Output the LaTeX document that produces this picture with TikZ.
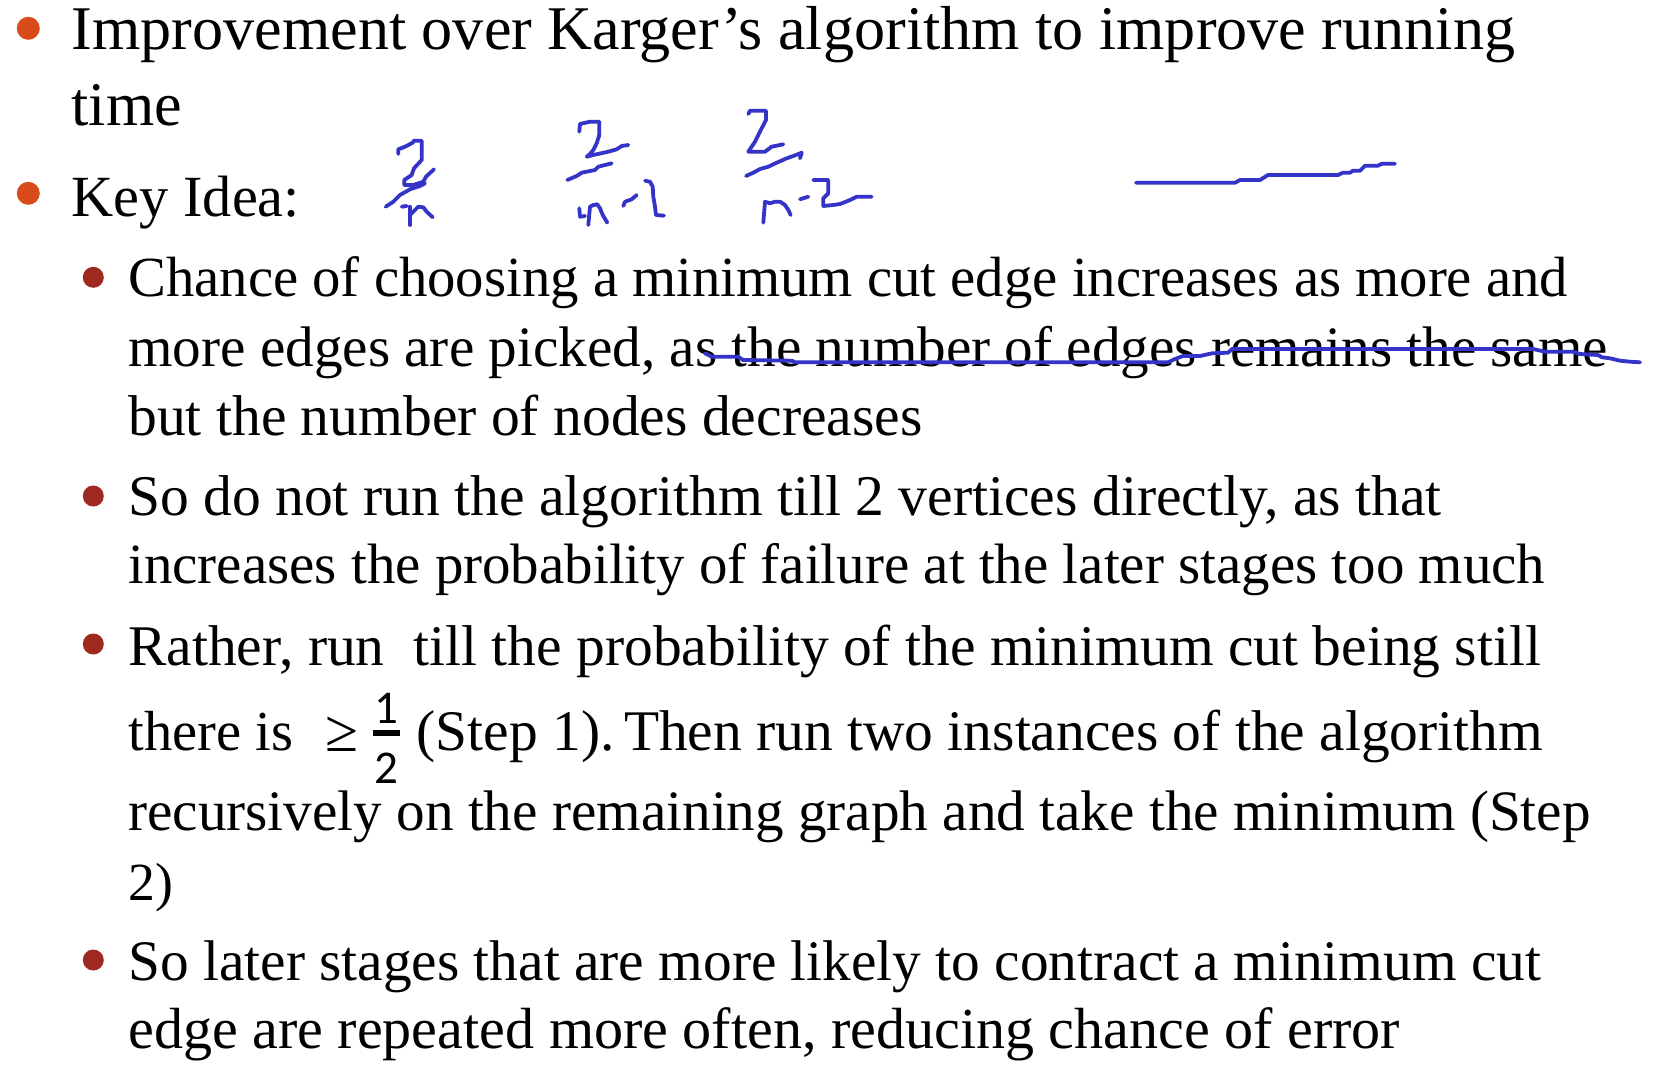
\documentclass[tikz,border=0pt]{standalone}
\usepackage{fontspec}
\setmainfont{Liberation Serif}
\newfontfamily\fracfont{Carlito}
\definecolor{bulletorange}{HTML}{D84B1A}
\definecolor{bulletred}{HTML}{9E2A1F}
\definecolor{ink}{HTML}{3434C8}
\newcommand\tline[4]{\node[txt] (#1) at #2 {\resizebox{#3pt}{!}{#4}};}
\begin{document}
\frenchspacing
\begin{tikzpicture}[x=1pt,y=-1pt,
  txt/.style={anchor=base west,inner sep=0pt,outer sep=0pt,font=\fontsize{60}{72}\selectfont},
  fracdigit/.style={anchor=base,inner sep=0pt,outer sep=0pt,font=\fracfont\fontsize{47}{47}\selectfont},
  topbullet/.style={circle,fill=bulletorange,minimum size=23pt,inner sep=0pt},
  subbullet/.style={circle,fill=bulletred,minimum size=21pt,inner sep=0pt},
  inkline/.style={draw=ink,line width=3.8pt,line cap=round,line join=round}]
\useasboundingbox[fill=white] (0,0) rectangle (1657,1065);
% bullets
\node[topbullet] (b1) at (28.3,28.3) {};
\node[topbullet] (b2) at (28.3,193.3) {};
\node[subbullet] (s1) at (93.3,277.3) {};
\node[subbullet] (s2) at (93.3,496) {};
\node[subbullet] (s3) at (93.3,644) {};
\node[subbullet] (s4) at (93.3,960) {};
% text lines
\tline{l1}{(71.7,50)}{1443.3}{Improvement over Karger’s algorithm to improve running}
\tline{l2}{(71.7,125)}{110.3}{time}
\tline{l3}{(71.7,216.7)}{228.3}{Key Idea:}
\tline{l4}{(128.3,296.7)}{1439.7}{Chance of choosing a minimum cut edge increases as more and}
\tline{l5}{(128.3,366)}{1479.7}{more edges are picked, as the number of edges remains the same}
\tline{l6}{(128.3,435)}{794.3}{but the number of nodes decreases}
\tline{l7}{(128.3,515)}{1313.2}{So do not run the algorithm till 2 vertices directly, as that}
\tline{l8}{(128.3,583.3)}{1416.7}{increases the probability of failure at the later stages too much}
\tline{l9}{(128.3,665)}{1412.7}{Rather, run\ \ till the probability of the minimum cut being still}
\tline{l10a}{(128.3,750.7)}{164.7}{there is}
\node[txt] (geq) at (325,751.7) {\resizebox{33pt}{!}{≥}};
\node[fracdigit] (num) at (386.3,723.3) {1};
\node[fracdigit] (den) at (386.3,783.3) {2};
\draw[line width=5.5pt] (373,733) -- (400,733);
\tline{l10b}{(416.7,750.7)}{1126.3}{(Step 1).\,Then run two instances of the algorithm}
\tline{l11}{(128.3,830)}{1462.2}{recursively on the remaining graph and take the minimum (Step}
\tline{l12}{(128.3,900)}{44.7}{2)}
\tline{l13}{(128.3,980)}{1412.7}{So later stages that are more likely to contract a minimum cut}
\tline{l14}{(128.3,1048.3)}{1271.7}{edge are repeated more often, reducing chance of error}
% handwriting: 2/n
\draw[inkline] (398.3,154) -- (398.3,149.3) -- (405,146.7) -- (412.7,142.7) -- (414,140.7) -- (421.7,140.7) -- (421.7,160) -- (414,168.3) -- (411.7,175) -- (404.3,180) -- (404.3,185) -- (413.3,185) -- (423.3,181.7) -- (426,176.7) -- (434,169.3);
\draw[inkline] (385.7,206.7) -- (393.3,201.7) -- (400,195) -- (410,189.3) -- (420,186) -- (425,183.3);
\draw[inkline] (401.7,206.7) -- (406.7,206);
\draw[inkline] (410,225) -- (410,206.7);
\draw[inkline] (410,215) -- (415,210) -- (418.3,206.7) -- (423.3,207.3) -- (426.7,211.7) -- (432.7,217.3);
% 2/(n-1)
\draw[inkline] (579.3,131.7) -- (580,124) -- (590,121.7) -- (599.3,121.7) -- (599.3,135) -- (596.7,143.3) -- (593.3,150) -- (590,154) -- (586.7,156.7) -- (593.3,155) -- (608.3,151.7) -- (616.7,149.3) -- (621.7,146) -- (628.3,145);
\draw[inkline] (567.3,180) -- (576.7,176) -- (581.7,172.7) -- (595,170) -- (598.3,166.7) -- (605,165) -- (611.7,163.3);
\draw[inkline] (579.3,208.3) -- (580,216.7) -- (585,216);
\draw[inkline] (588.3,225) -- (590,206.7) -- (593.3,205) -- (597.3,204.3) -- (600,208.3) -- (602.7,215) -- (607.3,222.7);
\draw[inkline] (623.3,206) -- (625,201.7) -- (631.7,199.3) -- (636.7,195);
\draw[inkline] (645,180.7) -- (650,181.7) -- (652.7,186.7) -- (653.3,196.7) -- (655,206.7) -- (656,215) -- (664,215.7);
% 2/(n-2)
\draw[inkline] (748.3,114) -- (750,110.7) -- (766,110.7) -- (766,120) -- (761.7,128.3) -- (758.3,135) -- (755,141.7) -- (748.3,151.7) -- (765,151.7) -- (771.7,146.7) -- (783.3,144.3);
\draw[inkline] (746,176) -- (753.3,172.7) -- (760,169) -- (768.3,166.7) -- (776.7,162.7) -- (786.7,158.3) -- (793.3,156) -- (801.7,152.7) -- (800,158.3);
\draw[inkline] (763.3,222.7) -- (765,201.7) -- (770,203.3) -- (775,201.7) -- (780,201.7) -- (785,205) -- (788.3,210) -- (790.7,215);
\draw[inkline] (800,199.3) -- (808.3,196.7);
\draw[inkline] (813.3,180) -- (828.3,180) -- (828.3,193.3) -- (823.3,198.3) -- (823.3,206) -- (833.3,205) -- (840,204) -- (850,200) -- (856.7,196.7) -- (871.7,196.7);
% long line top right
\draw[inkline] (1136,182.7) -- (1235,182.7) -- (1240,180) -- (1260,180) -- (1268,175) -- (1338,175) -- (1343,172.7) -- (1350,172.7) -- (1353,170.7) -- (1360,170.7) -- (1365,165.7) -- (1378,165.7) -- (1382,163.7) -- (1395,163.7);
% strike-through
\draw[inkline] (705,353.3) -- (711.7,356.7) -- (738,356.7) -- (743,360) -- (792,360.7) -- (795,362.3) -- (1168,362.3) -- (1175,359) -- (1183,356) -- (1200,356) -- (1212,353.3) -- (1228,352.7) -- (1232,349) -- (1533,349) -- (1545,351.7) -- (1573,351.7) -- (1580,354) -- (1598,355) -- (1602,357.3) -- (1610,358.3) -- (1620,360.7) -- (1630,361.7) -- (1640,362.3);
\end{tikzpicture}
\end{document}
